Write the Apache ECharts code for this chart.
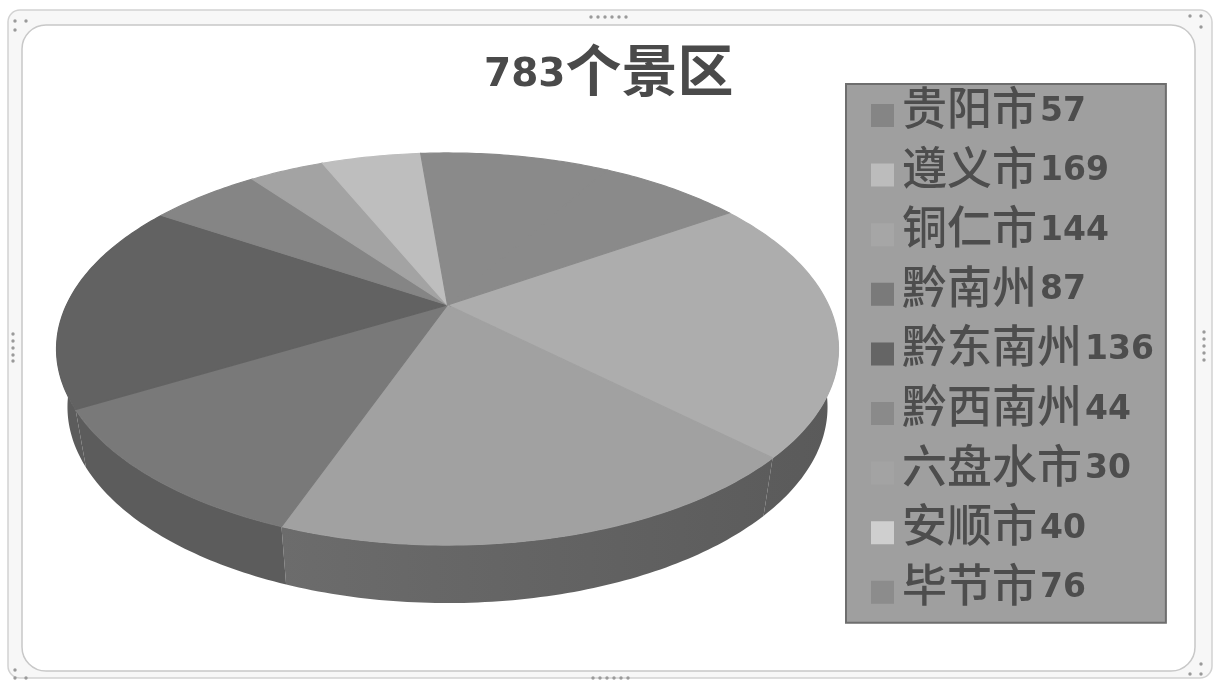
<!DOCTYPE html>
<html><head><meta charset="utf-8">
<style>html,body{margin:0;padding:0;background:#fff}#c{width:1217px;height:683px}</style>
<script src="https://cdn.jsdelivr.net/npm/echarts@6/dist/echarts.min.js"></script>
</head><body><div id="c"></div>
<script>
const categories = ['贵阳市','遵义市','铜仁市','黔南州','黔东南州','黔西南州','六盘水市','安顺市','毕节市'];
const values = [57,169,144,87,136,44,30,40,76];
const topColors = ['#8a8a8a','#adadad','#a1a1a1','#797979','#626262','#858585','#a3a3a3','#bebebe','#8a8a8a'];
const wallLeftColors = ['#5c5c5c','#5c5c5c','#6c6c6c','#5c5c5c','#5c5c5c','#5c5c5c','#5c5c5c','#5c5c5c','#5c5c5c'];
const wallRightColors = ['#5c5c5c','#5a5a5a','#5c5c5c','#5c5c5c','#5c5c5c','#5c5c5c','#5c5c5c','#5c5c5c','#5c5c5c'];
const swatchColors = ['#858585','#bcbcbc','#a6a6a6','#7a7a7a','#656565','#8a8a8a','#a3a3a3','#cfcfcf','#8c8c8c'];
const titleNumber = '783';
const titleText = '个景区';

const total = values.reduce((a,b)=>a+b,0);
const DEG=Math.PI/180;
const START = 30*DEG, WALL_FROM=100*DEG, WALL_TO=290*DEG;
const CX=447.5, BX=381, AY=-117.7, BY=305, K=0.2245, SHRINK=0.972, DROP=58;
function proj(t,lower){
  const x=Math.sin(t), y=Math.cos(t), w=1+K*y;
  let X=CX+BX*x/w, Y=(BY+AY*y)/w;
  if(lower){X=CX+SHRINK*(X-CX);Y+=DROP;}
  return [X,Y];
}
function arc(a,b,lower){
  const n=Math.max(4,Math.ceil((b-a)/0.015)),p=[];
  for(let i=0;i<=n;i++)p.push(proj(a+(b-a)*i/n,lower));
  return p;
}
function renderSlice(params,api){
  const i=params.seriesIndex;
  let before=0; for(let j=0;j<i;j++)before+=values[j];
  const a=START+before/total*2*Math.PI;
  const b=a+api.value(0)/total*2*Math.PI;
  const children=[];
  const wa=Math.max(a,WALL_FROM), wb=Math.min(b,WALL_TO);
  if(wb>wa){
    const top=arc(wa,wb,false), low=arc(wa,wb,true);
    const fill=new echarts.graphic.LinearGradient(1,0,0,0,[
      {offset:0,color:wallRightColors[i]},{offset:1,color:wallLeftColors[i]}]);
    children.push({type:'polygon',z2:1,shape:{points:top.concat(low.slice().reverse())},
      style:{fill:fill}});
  }
  children.push({type:'polygon',z2:5+(i===0?1:0),shape:{points:[[CX,BY]].concat(arc(a,b,false))},
    style:{fill:topColors[i],stroke:topColors[i],lineWidth:1.2}});
  return {type:'group',children:children};
}
function dots(list){
  return list.map(p=>({type:'circle',shape:{cx:p[0],cy:p[1],r:1.7},style:{fill:'#9a9a9a'},silent:true}));
}
const grips=[[591,17],[598,17],[605,17],[612,17],[619,17],[626,17],
 [593,678],[600,678],[607,678],[614,678],[621,678],[628,678],
 [13,334],[13,341],[13,348],[13,355],[13,361],
 [1204,332],[1204,339],[1204,346],[1204,353],[1204,360],
 [15,21],[26,21],[15,30],[1190,16],[1201,16],[1201,27],
 [15,670],[15,678],[26,678],[1201,664],[1190,674],[1201,674]];
const chart=echarts.init(document.getElementById('c'),null,{renderer:'canvas'});
chart.setOption({
  animation:false,
  backgroundColor:'#ffffff',
  title:{
    text:'{n|'+titleNumber+'}{c|'+titleText+'}',
    left:484,top:40,padding:0,
    textStyle:{rich:{
      n:{fontFamily:'DejaVu Sans',fontWeight:'bold',fontSize:39,color:'#4a4a4a',lineHeight:60,padding:[11,0,0,0]},
      c:{fontFamily:'Noto Sans CJK SC',fontWeight:'bold',fontSize:56,color:'#4a4a4a',lineHeight:60}
    }}
  },
  legend:{
    orient:'vertical',left:846,top:84,
    padding:[1,12,15,25],
    itemGap:13.6,itemWidth:25,itemHeight:46,
    icon:'path://M0 0L0.01 0L0 0.01Z M0 19H23V42H0Z M23 46L23.01 46L23 45.99Z',
    selectedMode:false,
    backgroundColor:'#9f9f9f',borderColor:'#6e6e6e',borderWidth:2,
    data:categories.map((c,i)=>({name:c,itemStyle:{color:swatchColors[i]}})),
    formatter:function(name){
      return '{c|'+name+'}{n|'+values[categories.indexOf(name)]+'}';
    },
    textStyle:{padding:[0,0,0,2],rich:{
      c:{fontFamily:'Noto Sans CJK SC',fontWeight:500,fontSize:45,color:'#4d4d4d',lineHeight:46},
      n:{fontFamily:'DejaVu Sans',fontWeight:'bold',fontSize:33,color:'#4d4d4d',lineHeight:46,padding:[8,0,0,3]}
    }}
  },
  graphic:[
    {type:'rect',shape:{x:8,y:10,width:1204,height:668,r:12},style:{fill:'#f7f7f7',stroke:'#d2d2d2',lineWidth:1.5},silent:true},
    {type:'rect',shape:{x:22,y:25,width:1173,height:646,r:24},style:{fill:'#ffffff',stroke:'#c8c8c8',lineWidth:1.5},silent:true}
  ].concat(dots(grips)),
  series:categories.map((c,i)=>({
    name:c,type:'custom',coordinateSystem:'none',
    itemStyle:{color:swatchColors[i]},
    renderItem:renderSlice,
    data:[[values[i]]],silent:true
  }))
});
</script></body></html>
